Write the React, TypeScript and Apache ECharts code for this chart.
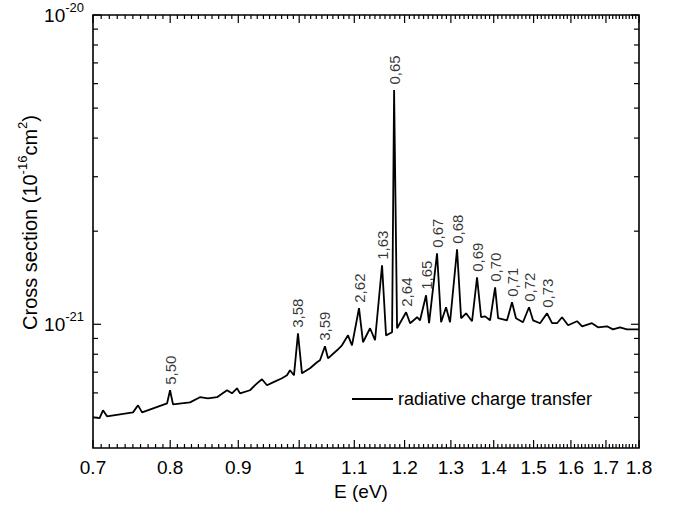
import React, { useEffect, useRef } from 'react';
import * as echarts from 'echarts';

// Photon energy E (eV) along the curve
const energy = [
  0.7, 0.708, 0.7122, 0.7172, 0.7502, 0.7567, 0.762, 0.7957, 0.7998, 0.8039,
  0.8279, 0.8423, 0.854, 0.8675, 0.8826, 0.8902, 0.898, 0.9027, 0.9184, 0.9296,
  0.9376, 0.9458, 0.9557, 0.9707, 0.9791, 0.9842, 0.991, 0.9979, 1.0048, 1.0189,
  1.0313, 1.0366, 1.0456, 1.0511, 1.0676, 1.0768, 1.0881, 1.0956, 1.109, 1.1167,
  1.1304, 1.1402, 1.1541, 1.1621, 1.1743, 1.1784, 1.1845, 1.2031, 1.2115, 1.2263,
  1.2325, 1.2454, 1.2519, 1.2693, 1.2782, 1.2892, 1.2981, 1.314, 1.3232, 1.3346,
  1.3485, 1.3602, 1.3698, 1.3793, 1.3912, 1.4034, 1.4107, 1.4326, 1.445, 1.455,
  1.4727, 1.4882, 1.4986, 1.5168, 1.5353, 1.5487, 1.5621, 1.5757, 1.5922, 1.6171,
  1.6313, 1.6594, 1.6768, 1.703, 1.7208, 1.7417, 1.7629, 1.8,
];

// Cross section, in units of 1e-21
const sigma = [
  0.5, 0.497, 0.527, 0.504, 0.519, 0.547, 0.519, 0.555, 0.612, 0.551,
  0.559, 0.581, 0.576, 0.581, 0.612, 0.598, 0.621, 0.598, 0.612, 0.644,
  0.664, 0.635, 0.649, 0.669, 0.684, 0.71, 0.684, 0.935, 0.694, 0.721,
  0.754, 0.765, 0.849, 0.776, 0.824, 0.855, 0.921, 0.855, 1.127, 0.875,
  0.971, 0.888, 1.552, 0.921, 0.942, 5.718, 0.971, 1.094, 1.008, 1.054,
  1.03, 1.241, 1.008, 1.697, 1.015, 1.135, 1.015, 1.748, 1.046, 1.085,
  1.023, 1.419, 1.054, 1.061, 1.03, 1.317, 1.046, 1.03, 1.178, 1.046,
  1.015, 1.135, 1.03, 1.008, 1.085, 1.008, 1.008, 1.054, 0.993, 1.023,
  0.985, 1.008, 0.978, 0.985, 0.963, 0.978, 0.963, 0.963,
];

// Annotated peaks
const peakEnergy = [
  0.7998, 0.9979, 1.0456, 1.109, 1.1541, 1.1784, 1.2031, 1.2454, 1.2693, 1.314,
  1.3602, 1.4034, 1.445, 1.4882, 1.5353,
];
const peakLabels = [
  '5,50', '3,58', '3,59', '2,62', '1,63', '0,65', '2,64', '1,65', '0,67', '0,68',
  '0,69', '0,70', '0,71', '0,72', '0,73',
];

const xTicks = [0.7, 0.8, 0.9, 1.0, 1.1, 1.2, 1.3, 1.4, 1.5, 1.6, 1.7, 1.8];
const yDecades = [1e-21, 1e-20];
const yMinorTicks = [
  5e-22, 6e-22, 7e-22, 8e-22, 9e-22,
  2e-21, 3e-21, 4e-21, 5e-21, 6e-21, 7e-21, 8e-21, 9e-21,
];
const seriesName = 'radiative charge transfer';

const X_MIN = 0.7;
const X_MAX = 1.8;
const Y_MIN_LOG = -21.4;
const Y_MAX_LOG = -20;

const FONT = "'Liberation Sans', Arial, Helvetica, sans-serif";

const lx = (e: number) => Math.log(e);
const ly = (s: number) => Math.log10(s);

export default function App() {
  const ref = useRef<HTMLDivElement>(null);

  useEffect(() => {
    if (!ref.current) return;
    const chart = echarts.init(ref.current, undefined, { renderer: 'svg' });

    const xMajor = xTicks.map(lx);
    const xMinorE: number[] = [];
    for (let k = 71; k < 180; k++) {
      if (k % 10 !== 0) xMinorE.push(k / 100);
    }
    const yMajor = yDecades.map(ly);

    const xFmt = (v: number) => {
      const r = Math.round(Math.exp(v) * 10) / 10;
      return r === 1 ? '1' : r.toFixed(1);
    };

    const data = energy.map((e, i) => [lx(e), ly(sigma[i] * 1e-21)]);
    const peakData = peakEnergy.map((e, k) => {
      const i = energy.indexOf(e);
      return { value: [lx(e), ly(sigma[i] * 1e-21)], name: peakLabels[k] };
    });

    chart.setOption({
      animation: false,
      backgroundColor: '#fff',
      grid: { left: 93, right: 37, top: 15, bottom: 65, containLabel: false },
      legend: {
        data: [{ name: seriesName, icon: 'rect' }],
        left: 352,
        top: 390,
        padding: 0,
        itemWidth: 41,
        itemHeight: 2,
        itemStyle: { color: '#000' },
        textStyle: { fontSize: 18, color: '#000', fontFamily: FONT },
      },
      xAxis: {
        type: 'value',
        min: lx(X_MIN),
        max: lx(X_MAX),
        position: 'bottom',
        splitLine: { show: false },
        axisLine: { show: false, onZero: false },
        axisTick: { show: false },
        axisLabel: {
          show: true,
          customValues: xMajor,
          formatter: xFmt,
          margin: 10,
          color: '#000',
          fontSize: 19,
          fontFamily: FONT,
        },
        name: 'E (eV)',
        nameLocation: 'middle',
        nameGap: 33,
        nameTextStyle: { fontSize: 19, color: '#000', fontFamily: FONT, padding: [0, 10, 0, 0] },
      },
      yAxis: {
        type: 'value',
        min: Y_MIN_LOG,
        max: Y_MAX_LOG,
        position: 'left',
        splitLine: { show: false },
        axisLine: { show: false, onZero: false },
        axisTick: { show: false },
        axisLabel: {
          show: true,
          customValues: yMajor,
          margin: 9,
          formatter: (v: number) => `{b|10}{s|${Math.round(v)}}`,
          rich: {
            b: { fontSize: 19, color: '#000', fontFamily: FONT },
            s: { fontSize: 13, color: '#000', fontFamily: FONT, padding: [0, 0, 16, 0] },
          },
        },
        name: '{a|Cross section (10}{s|-16}{a|cm}{s|2}{a|)}',
        nameLocation: 'middle',
        nameRotate: 90,
        nameGap: 50,
        nameMoveOverlap: false,
        nameTextStyle: {
          padding: [0, 0, 0, 18],
          rich: {
            a: { fontSize: 20, color: '#000', fontFamily: FONT },
            s: { fontSize: 13, color: '#000', fontFamily: FONT, padding: [0, 0, 14, 0] },
          },
        },
      },
      series: [
        {
          name: seriesName,
          type: 'line',
          data,
          symbol: 'none',
          showSymbol: false,
          lineStyle: { color: '#000', width: 1.8 },
          itemStyle: { color: '#000' },
          z: 3,
        },
        {
          name: 'peaks',
          type: 'scatter',
          data: peakData,
          symbolSize: 1,
          itemStyle: { color: 'rgba(0,0,0,0)' },
          silent: true,
          label: {
            show: true,
            position: 'top',
            distance: 5,
            rotate: 90,
            align: 'left',
            verticalAlign: 'middle',
            formatter: (p: any) => p.name,
            fontSize: 15,
            color: '#000',
            fontFamily: FONT,
          },
          z: 4,
        },
      ],
    });

    // Frame and ticks, positioned through the chart's own axis scales
    const px = (e: number) => chart.convertToPixel({ xAxisIndex: 0 }, lx(e)) as number;
    const py = (s: number) => chart.convertToPixel({ yAxisIndex: 0 }, ly(s)) as number;
    const left = chart.convertToPixel({ xAxisIndex: 0 }, lx(X_MIN)) as number;
    const right = chart.convertToPixel({ xAxisIndex: 0 }, lx(X_MAX)) as number;
    const bottom = chart.convertToPixel({ yAxisIndex: 0 }, Y_MIN_LOG) as number;
    const top = chart.convertToPixel({ yAxisIndex: 0 }, Y_MAX_LOG) as number;

    const tickStyle = { stroke: '#000', lineWidth: 1.2 };
    const els: any[] = [];
    const vTick = (x: number, len: number) => {
      els.push({ type: 'line', silent: true, shape: { x1: x, y1: bottom, x2: x, y2: bottom - len }, style: tickStyle });
      els.push({ type: 'line', silent: true, shape: { x1: x, y1: top, x2: x, y2: top + len }, style: tickStyle });
    };
    const hTick = (y: number, len: number) => {
      els.push({ type: 'line', silent: true, shape: { x1: left, y1: y, x2: left + len, y2: y }, style: tickStyle });
      els.push({ type: 'line', silent: true, shape: { x1: right, y1: y, x2: right - len, y2: y }, style: tickStyle });
    };
    xTicks.forEach((e) => vTick(px(e), 8));
    xMinorE.forEach((e) => vTick(px(e), 4));
    yDecades.forEach((s) => hTick(py(s), 8));
    yMinorTicks.forEach((s) => hTick(py(s), 5));
    els.push({
      type: 'rect',
      silent: true,
      shape: { x: left, y: top, width: right - left, height: bottom - top },
      style: { fill: 'none', stroke: '#000', lineWidth: 1.6 },
      z: 10,
    });

    chart.setOption({ graphic: { elements: els } });

    return () => chart.dispose();
  }, []);

  return (
    <div
      ref={ref}
      style={{ position: 'fixed', left: 0, top: 0, width: 676, height: 513, background: '#fff' }}
    />
  );
}
